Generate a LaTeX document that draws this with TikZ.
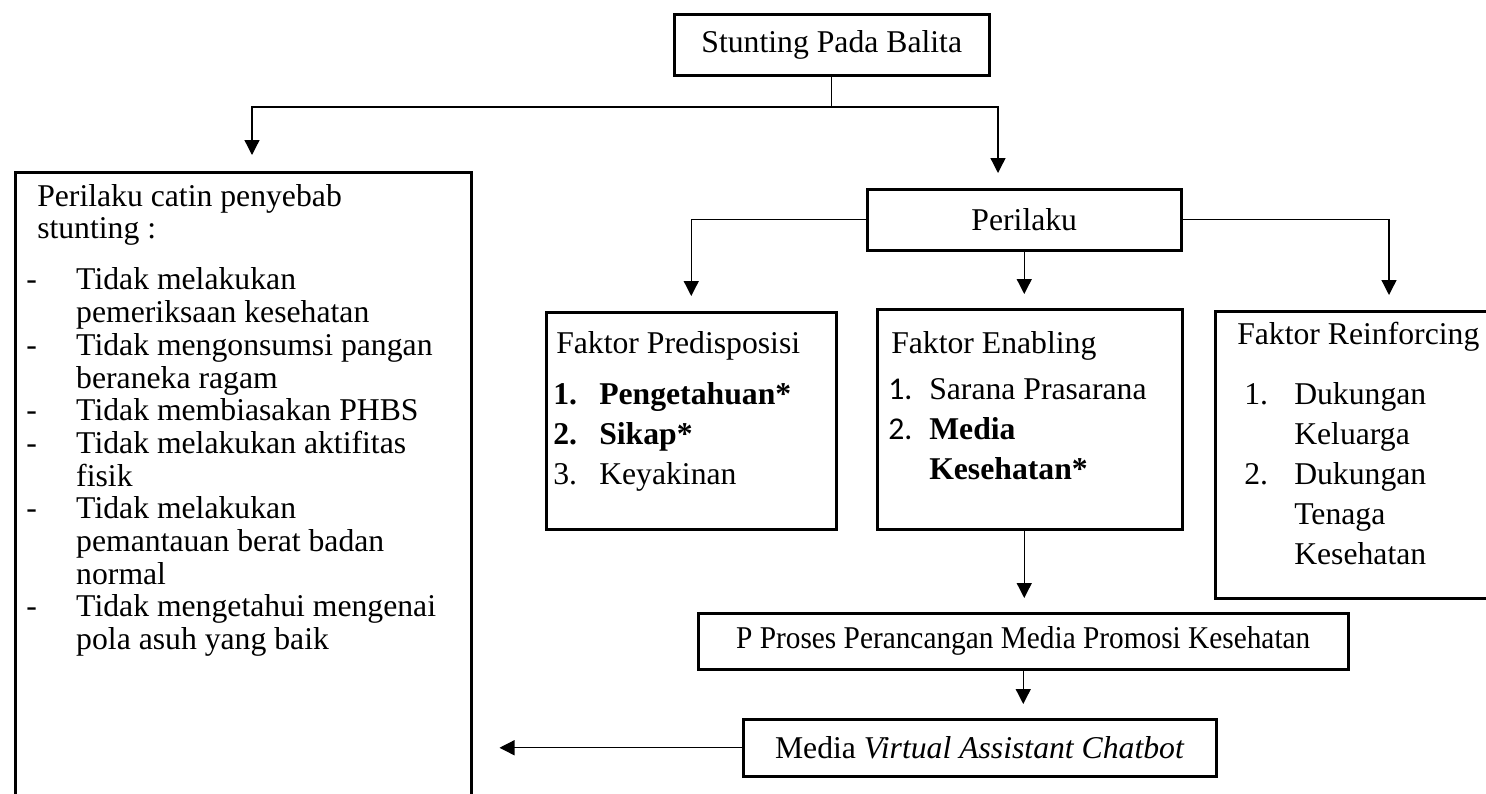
\documentclass[tikz,border=0pt]{standalone}
\usepackage{fontspec}
\setmainfont{Liberation Serif}
\newfontfamily\carlito{Carlito}
\usepackage{graphicx}
\usetikzlibrary{arrows.meta,calc}
\tikzset{
  box/.style={draw, line width=2.5pt, inner sep=0pt, anchor=north west,
    font=\fontsize{31.7}{38}\selectfont},
  listbox/.style={draw, line width=2.5pt, inner sep=0pt, anchor=north west},
  conn/.style={line width=1.3pt},
  arr/.style={conn, -{Triangle[length=15pt,width=15pt]}},
}
\newcommand{\boxtext}[4]{\parbox[c][#2][t]{#1}{\fontsize{31.7}{#3}\selectfont\parindent=0pt\rightskip=0pt plus 1fil\relax #4}}
\begin{document}
\begin{tikzpicture}[x=1pt,y=-1pt]
\useasboundingbox (0,0) rectangle (1486,793);

% top
\node[box, minimum width=315pt, minimum height=61pt] (top) at (673,13) {Stunting Pada Balita};
\node[box, minimum width=314pt, minimum height=61pt] (peri) at (866,188) {Perilaku};

% left list box
\node[listbox] (left) at (14,171) {\boxtext{456pt}{640pt}{32.7pt}{%
\noindent\rule{0pt}{34pt}\hspace*{22pt}Perilaku catin penyebab\newline
\hspace*{22pt}stunting :\par
\vspace{18.3pt}
\hangindent=61pt\hangafter=1 \noindent\hspace*{11pt}\makebox[50pt][l]{-}Tidak melakukan\newline pemeriksaan kesehatan\par
\hangindent=61pt\hangafter=1 \noindent\hspace*{11pt}\makebox[50pt][l]{-}Tidak mengonsumsi pangan\newline beraneka ragam\par
\hangindent=61pt\hangafter=1 \noindent\hspace*{11pt}\makebox[50pt][l]{-}Tidak membiasakan PHBS\par
\hangindent=61pt\hangafter=1 \noindent\hspace*{11pt}\makebox[50pt][l]{-}Tidak melakukan aktifitas\newline fisik\par
\hangindent=61pt\hangafter=1 \noindent\hspace*{11pt}\makebox[50pt][l]{-}Tidak melakukan\newline pemantauan berat badan\newline normal\par
\hangindent=61pt\hangafter=1 \noindent\hspace*{11pt}\makebox[50pt][l]{-}Tidak mengetahui mengenai\newline pola asuh yang baik\par}};

% Predisposisi
\node[listbox] (pred) at (545,311) {\boxtext{290pt}{217pt}{40pt}{%
\noindent\rule{0pt}{41pt}\hspace*{10pt}Faktor Predisposisi\par
\vspace{11pt}
\noindent\hspace*{7pt}\makebox[46pt][l]{\textbf{1.}}\textbf{Pengetahuan*}\par
\noindent\hspace*{7pt}\makebox[46pt][l]{\textbf{2.}}\textbf{Sikap*}\par
\noindent\hspace*{7pt}\makebox[46pt][l]{3.}Keyakinan\par}};

% Enabling
\node[listbox] (enab) at (876,308) {\boxtext{305pt}{220pt}{40pt}{%
\noindent\rule{0pt}{44pt}\hspace*{14pt}Faktor Enabling\par
\vspace{6pt}
\hangindent=52pt\hangafter=1 \noindent\hspace*{11pt}\makebox[41pt][l]{\carlito 1.}Sarana Prasarana\par
\hangindent=52pt\hangafter=1 \noindent\hspace*{11pt}\makebox[41pt][l]{\carlito 2.}\textbf{Media}\newline\textbf{Kesehatan*}\par}};

% Reinforcing
\node[listbox] (reinf) at (1214,310) {\boxtext{280pt}{287pt}{40pt}{%
\noindent\rule{0pt}{33pt}\hspace*{22pt}Faktor Reinforcing\par
\vspace{20pt}
\hangindent=79pt\hangafter=1 \noindent\hspace*{29pt}\makebox[50pt][l]{1.}Dukungan\newline Keluarga\par
\hangindent=79pt\hangafter=1 \noindent\hspace*{29pt}\makebox[50pt][l]{2.}Dukungan\newline Tenaga\newline Kesehatan\par}};

% bottom boxes
\node[box, minimum width=650pt, minimum height=56pt] (proses) at (697,612) {\scalebox{0.925}[1]{P Proses Perancangan Media Promosi Kesehatan}};
\node[box, minimum width=473pt, minimum height=57pt] (media) at (742,718) {Media \textit{Virtual Assistant Chatbot}};

% junction coordinates
\coordinate (jl) at (252,107);
\coordinate (jr) at (998,107);
\coordinate (jr2) at (1389,217);

% connectors
\draw[arr, shorten >=16pt] (top.south) |- (jl) -- (jl |- left.north);
\draw[arr, shorten >=15pt] (top.south |- jl) -| (jr |- peri.north);
\draw[arr, shorten >=15pt] (peri.west) -| (pred.north);
\draw[arr, shorten >=14pt] (peri.south) -- (peri.south |- enab.north);
\draw[arr, shorten >=15pt] (peri.east) -| (jr2 |- reinf.north);
\draw[arr, shorten >=14pt] (peri.south |- enab.south) -- (peri.south |- proses.north);
\draw[arr, shorten >=14pt] (proses.south) -- (proses.south |- media.north);
\draw[arr, shorten >=27pt] (media.west) -- (left.east |- media.west);
\end{tikzpicture}
\end{document}
